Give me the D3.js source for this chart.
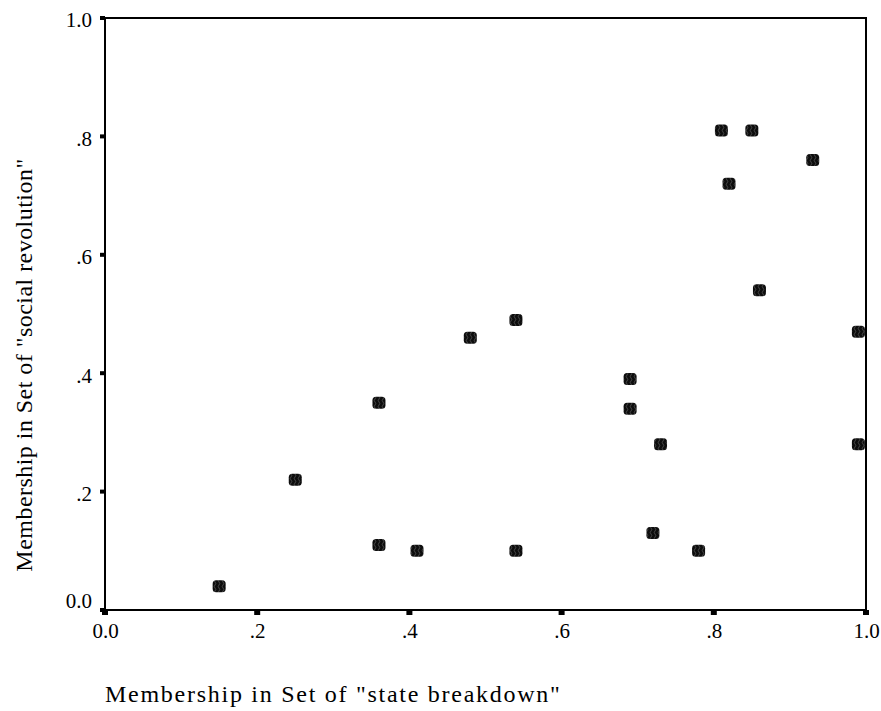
<!DOCTYPE html>
<html>
<head>
<meta charset="utf-8">
<script src="https://cdn.jsdelivr.net/npm/d3@7"></script>
<style>
  html, body { margin: 0; padding: 0; background: #fff; overflow: hidden; }
  svg { display: block; }
  text { font-family: "Liberation Serif", "Times New Roman", serif; fill: #000; }
</style>
</head>
<body>
<div id="scatter"></div>
<script>
// Scatter - membership in "state breakdown" vs "social revolution"

const stateBreakdown   = [0.15, 0.25, 0.36, 0.36, 0.41, 0.48, 0.54, 0.54, 0.69, 0.69,
                          0.72, 0.73, 0.78, 0.81, 0.82, 0.85, 0.86, 0.93, 0.99, 0.99];
const socialRevolution = [0.04, 0.22, 0.35, 0.11, 0.10, 0.46, 0.49, 0.10, 0.39, 0.34,
                          0.13, 0.28, 0.10, 0.81, 0.72, 0.81, 0.54, 0.76, 0.47, 0.28];
const tickValues = [0, 0.2, 0.4, 0.6, 0.8, 1.0];
const tickLabels = ["0.0", ".2", ".4", ".6", ".8", "1.0"];
const xTitle = "Membership in Set of \"state breakdown\"";
const yTitle = "Membership in Set of \"social revolution\"";

const width = 881;
const height = 711;
const margin = {top: 18, right: 15, bottom: 101, left: 105};
const innerWidth = width - margin.left - margin.right;
const innerHeight = height - margin.top - margin.bottom;

const svg = d3.select("#scatter")
    .append("svg")
    .attr("width", width)
    .attr("height", height)
    .attr("viewBox", `0 0 ${width} ${height}`);

// squiggly dark fill used by the markers
const pat = svg.append("defs").append("pattern")
    .attr("id", "squig")
    .attr("patternUnits", "userSpaceOnUse")
    .attr("width", 4)
    .attr("height", 6);
pat.append("rect").attr("width", 4).attr("height", 6).attr("fill", "#0d0d0d");
pat.append("path")
    .attr("d", "M2,0 Q3.6,1.5 2,3 Q0.4,4.5 2,6")
    .attr("stroke", "#5e5e5e")
    .attr("stroke-width", 0.7)
    .attr("fill", "none");

const inner = svg.append("g")
    .attr("transform", `translate(${margin.left}, ${margin.top})`);

const xScale = d3.scaleLinear().domain([0, 1]).range([0, innerWidth]);
const yScale = d3.scaleLinear().domain([0, 1]).range([innerHeight, 0]);

const labelOf = v => tickLabels[tickValues.indexOf(v)];

// tick labels
const xAxis = inner.append("g")
    .attr("transform", `translate(0, ${innerHeight})`)
    .call(d3.axisBottom(xScale).tickValues(tickValues).tickFormat(labelOf)
        .tickSize(0).tickPadding(13));
const yAxis = inner.append("g")
    .call(d3.axisLeft(yScale).tickValues(tickValues).tickFormat(labelOf)
        .tickSize(0).tickPadding(13));

[xAxis, yAxis].forEach(ax => {
    ax.attr("font-family", "Liberation Serif, serif").attr("font-size", 21);
    ax.select(".domain").remove();
    ax.selectAll("text").attr("fill", "#000");
});
xAxis.selectAll("text").attr("dy", "0.71em");
yAxis.selectAll("text").attr("dy", d => d === 0 ? "-0.1em" : "0.42em");

// frame
inner.append("rect")
    .attr("x", 0)
    .attr("y", 0)
    .attr("width", innerWidth)
    .attr("height", innerHeight)
    .attr("fill", "none")
    .attr("stroke", "#000")
    .attr("stroke-width", 2);

// small block tick marks outside the frame
inner.selectAll("rect.ytick")
    .data(tickValues)
    .join("rect")
    .attr("class", "ytick")
    .attr("x", -5)
    .attr("y", d => yScale(d) - 2)
    .attr("width", 5)
    .attr("height", 4)
    .attr("fill", "#000");

inner.selectAll("rect.xtick")
    .data(tickValues)
    .join("rect")
    .attr("class", "xtick")
    .attr("x", d => xScale(d) - 3)
    .attr("y", innerHeight)
    .attr("width", 6)
    .attr("height", 5)
    .attr("fill", "#000");

// points
inner.selectAll("rect.pt")
    .data(d3.range(stateBreakdown.length))
    .join("rect")
    .attr("class", "pt")
    .attr("x", i => xScale(stateBreakdown[i]) - 6.5)
    .attr("y", i => yScale(socialRevolution[i]) - 6)
    .attr("width", 13)
    .attr("height", 12)
    .attr("rx", 3.5)
    .attr("fill", "url(#squig)");

// axis titles, spaced out like the original export
function spreadTo(sel, target) {
    const n = sel.text().length;
    const natural = sel.node().getComputedTextLength();
    sel.attr("letter-spacing", ((target - natural) / (n - 1)).toFixed(2));
}

const xt = svg.append("text")
    .attr("x", margin.left)
    .attr("y", 702)
    .attr("font-size", 24)
    .text(xTitle);
spreadTo(xt, 455);

const yt = svg.append("text")
    .attr("transform", "translate(32, 365) rotate(-90)")
    .attr("text-anchor", "middle")
    .attr("font-size", 24)
    .text(yTitle);
spreadTo(yt, 413);
</script>
</body>
</html>
